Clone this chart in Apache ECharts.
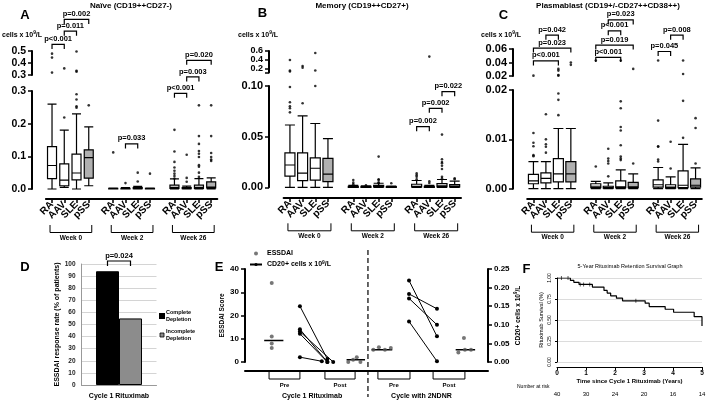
<!DOCTYPE html>
<html><head><meta charset="utf-8">
<script src="https://cdn.jsdelivr.net/npm/echarts@6/dist/echarts.min.js"></script>
<style>html,body{margin:0;padding:0;background:#fff}#c{width:709px;height:400px}</style>
</head><body><div id="c"></div>
<script>
const FONT = '"Liberation Sans", Arial, Helvetica, sans-serif';

// ---------------- categories ----------------
const groups = ['RA', 'AAV', 'SLE', 'pSS'];
const weeks = ['Week 0', 'Week 2', 'Week 26'];

// ---------------- Panel A: Naive (CD19++CD27-) ----------------
// [min, Q1, median, Q3, max] for RA,AAV,SLE,pSS at week 0, 2, 26
const naiveBoxes = [
  [0, 0.032, 0.072, 0.13, 0.26], [0.005, 0.01, 0.027, 0.077, 0.18], [0, 0.028, 0.049, 0.107, 0.23], [0.01, 0.033, 0.096, 0.12, 0.19],
  [0, 0, 0.001, 0.002, 0.003], [0, 0, 0.001, 0.002, 0.004], [0, 0.001, 0.002, 0.004, 0.008], [0, 0, 0.001, 0.002, 0.003],
  [0, 0.002, 0.005, 0.012, 0.031], [0, 0.001, 0.002, 0.004, 0.009], [0, 0.002, 0.005, 0.012, 0.032], [0, 0.003, 0.006, 0.022, 0.034]
];
const naiveOutliers = [
  [0.478, 0.445, 0.32], [0.219, 0.355], [0.249, 0.253, 0.274, 0.29, 0.328, 0.336, 0.496], [0.256],
  [0.112], [0.018], [0.05, 0.023], [0.047],
  [0.181, 0.115, 0.083, 0.066, 0.056, 0.047, 0.04, 0.032], [0.105, 0.034, 0.022], [0.256, 0.162, 0.138, 0.116, 0.108, 0.098, 0.073, 0.068, 0.05, 0.037], [0.256, 0.162, 0.11, 0.098, 0.09, 0.086]
];
const naivePLabels = ['p<0.001', 'p=0.011', 'p=0.002', 'p=0.033', 'p<0.001', 'p=0.003', 'p=0.020'];
const naivePPairs = [[0, 1], [1, 2], [1, 3], [5, 6], [8, 9], [9, 10], [9, 11]];

// ---------------- Panel B: Memory (CD19++CD27+) ----------------
const memoryBoxes = [
  [0, 0.011, 0.022, 0.034, 0.0615], [0, 0.0066, 0.014, 0.034, 0.0705], [0, 0.007, 0.0188, 0.029, 0.063], [0, 0.0056, 0.013, 0.0286, 0.048],
  [0, 0, 0.0005, 0.001, 0.002], [0, 0, 0.0005, 0.001, 0.0015], [0, 0.0005, 0.001, 0.002, 0.004], [0, 0, 0.0003, 0.0008, 0.0012],
  [0, 0.0003, 0.001, 0.003, 0.0067], [0, 0, 0.0003, 0.001, 0.002], [0, 0.0005, 0.0015, 0.0037, 0.0077], [0, 0.0005, 0.001, 0.0027, 0.006]
];
const memoryOutliers = [
  [0.074, 0.078, 0.08, 0.084, 0.099, 0.39, 0.147, 0.124], [0.083, 0.253, 0.215], [0.1, 0.555, 0.147], [],
  [0.003, 0.0046, 0.0072], [0.002], [0.0303, 0.008, 0.0072, 0.005, 0.004], [0.004],
  [0.0137, 0.012, 0.0103, 0.008], [0.006, 0.0043, 0.47], [0.052, 0.0277, 0.025, 0.0237, 0.0213, 0.018, 0.0103, 0.0087], [0.009, 0.008]
];
const memoryPLabels = ['p=0.002', 'p=0.002', 'p=0.022'];
const memoryPPairs = [[8, 9], [9, 10], [10, 11]];

// ---------------- Panel C: Plasmablast ----------------
const plasmaBoxes = [
  [0, 0.001, 0.0016, 0.0029, 0.0055], [0, 0.0012, 0.0021, 0.0032, 0.0055], [0, 0.0014, 0.003, 0.0061, 0.0122], [0, 0.0014, 0.003, 0.0055, 0.0122],
  [0, 0.0002, 0.0005, 0.001, 0.0015], [0, 0.0001, 0.0002, 0.0005, 0.0012], [0, 0.0002, 0.0004, 0.0016, 0.0038], [0, 0.0002, 0.0004, 0.0013, 0.003],
  [0, 0.0003, 0.0008, 0.0018, 0.0043], [0, 0.0001, 0.0003, 0.0008, 0.0024], [0, 0.0002, 0.0007, 0.0036, 0.009], [0, 0.0003, 0.0007, 0.002, 0.0042]
];
const plasmaOutliers = [
  [0.0066, 0.0068, 0.0086, 0.0093, 0.0113, 0.0205], [0.0073, 0.0085, 0.009, 0.01, 0.0151], [0.0149, 0.018, 0.0193, 0.0205, 0.0215, 0.028, 0.0305], [0.0365, 0.04],
  [0.0045, 0.043], [0.0025, 0.0051, 0.0056, 0.0061, 0.0081], [0.0058, 0.0061, 0.0065, 0.0088, 0.0118, 0.0125, 0.0163, 0.0177, 0.043], [0.0051, 0.0305],
  [0.0055, 0.0059, 0.0085, 0.0086, 0.0138, 0.043], [0.0041, 0.0095], [0.0103, 0.0178, 0.023, 0.043], [0.0051, 0.0123, 0.0143]
];
const plasmaPLabels = ['p=0.042', 'p=0.023', 'p<0.001', 'p=0.023', 'p<0.001', 'p=0.019', 'p<0.001', 'p=0.045', 'p=0.008'];
const plasmaPPairs = [[1, 2], [0, 3], [0, 2], [5, 7], [5, 6], [4, 7], [4, 6], [8, 9], [9, 10]];

// ---------------- Panel D ----------------
const depletionGroups = ['Complete Depletion', 'Incomplete Depletion'];
const responseRate = [94, 55];
const dCategories = ['Cycle 1 Rituximab'];
const dPLabel = 'p=0.024';

// ---------------- Panel E ----------------
const essdaiPreC1 = [34, 11, 8, 6];
const essdaiPostC1 = [0, 1, 2, 0];
const essdaiPreC2 = [5.3, 6.3, 5.3, 6];
const essdaiPostC2 = [4.1, 10.3, 5.3, 5.3];
const essdaiMedians = [9.3, 1.0, 5.3, 5.3];
const cd20PreC1 = [0.15, 0.088, 0.082, 0.076, 0.013];
const cd20PostC1 = [0.008, 0, 0, 0, 0.002];
const cd20PreC2 = [0.219, 0.183, 0.171, 0.109];
const cd20PostC2 = [0.069, 0.143, 0.1, 0.002];
const eTimepoints = ['Pre', 'Post', 'Pre', 'Post'];
const eCycles = ['Cycle 1 Rituximab', 'Cycle with 2NDNR'];
const cd20Name = 'CD20+ cells x 10^9/L';

// ---------------- Panel F ----------------
const kmTime = [0, 0.46, 0.58, 0.76, 1.22, 1.62, 1.73, 1.85, 2.05, 2.26, 3.04, 3.18, 3.73, 4.02, 4.73, 5.0];
const kmSurv = [1.0, 0.972, 0.948, 0.924, 0.892, 0.852, 0.82, 0.788, 0.76, 0.728, 0.70, 0.66, 0.628, 0.592, 0.54, 0.428];
const censorTime = [0.15, 0.38, 0.8, 0.92, 1.13, 2.72];
const censorSurv = [1, 1, 0.924, 0.924, 0.924, 0.728];
const atRisk = [40, 30, 24, 20, 16, 14];

// ================= layout =================
const slotOf = [0, 1, 2, 3, 5, 6, 7, 8, 10, 11, 12, 13];
const slotCats = Array.from({length: 14}, (_, i) => 'c' + i);
const isSlot = i => slotOf.indexOf(i) >= 0;
const slotLabel = v => { const k = slotOf.indexOf(parseInt(String(v).slice(1), 10)); return k < 0 ? '' : groups[k % 4]; };

// superscript helper for rich text: '10^9' -> 10 + raised 9
const supRich = (s) => s.split('^').map((part, i) => i === 0 ? '{a|' + part + '}' : '{s|' + part[0] + '}{a|' + part.slice(1) + '}').join('');
const richStyles = (fs) => ({a: {fontSize: fs, fontWeight: 'bold', fontFamily: FONT, color: '#000', lineHeight: fs + 2},
  s: {fontSize: fs * 0.7, fontWeight: 'bold', fontFamily: FONT, color: '#000', verticalAlign: 'top', lineHeight: fs + 2}});

const option = {
  animation: false, backgroundColor: '#fff', textStyle: {fontFamily: FONT},
  grid: [], xAxis: [], yAxis: [], series: [], legend: [], graphic: []
};
const txt = (text, x, y, size, weight, align, rich) => option.graphic.push({
  type: 'text', x: x, y: y, silent: true,
  style: Object.assign({text: text, fill: '#000', fontSize: size, fontWeight: weight, fontFamily: FONT, align: align || 'center', verticalAlign: 'middle'}, rich ? {rich: rich} : {})
});

function bracketRender(labels, drop, fs) {
  return function (params, api) {
    const a = api.coord([api.value(0), api.value(2)]);
    const b = api.coord([api.value(1), api.value(2)]);
    return {type: 'group', children: [
      {type: 'polyline', shape: {points: [[a[0], a[1] + drop], [a[0], a[1]], [b[0], b[1]], [b[0], b[1] + drop]]}, style: {stroke: '#000', lineWidth: 1.2, fill: null}},
      {type: 'text', x: (a[0] + b[0]) / 2, y: a[1] - 1.5, style: {text: labels[params.dataIndex], fill: '#000', fontSize: fs, fontWeight: 'bold', fontFamily: FONT, align: 'center', verticalAlign: 'bottom'}}
    ]};
  };
}
function weekRender(labels, o) {
  return function (params, api) {
    const a = api.coord([api.value(0), 0]);
    const b = api.coord([api.value(1), 0]);
    const x1 = a[0] - o.l, x2 = b[0] + o.r, y1 = a[1] + o.t, y2 = a[1] + o.b;
    return {type: 'group', children: [
      {type: 'polyline', shape: {points: [[x1, y1], [x1, y2], [x2, y2], [x2, y1]]}, style: {stroke: '#000', lineWidth: 1, fill: null}},
      {type: 'text', x: (x1 + x2) / 2, y: a[1] + o.txt, style: {text: labels[params.dataIndex], fill: '#000', fontSize: o.fs, fontWeight: 'bold', fontFamily: FONT, align: 'center', verticalAlign: 'middle'}}
    ]};
  };
}

function addBoxPanel(P) {
  const g = option.grid.length;
  option.grid.push({left: P.left, top: P.lowTop, width: P.width, height: P.lowH, containLabel: false, outerBoundsMode: 'none'});
  option.grid.push({left: P.left, top: P.upTop, width: P.width, height: P.upH, containLabel: false, outerBoundsMode: 'none'});
  const xi = option.xAxis.length;
  option.xAxis.push({gridIndex: g, type: 'category', data: slotCats, position: 'bottom', offset: P.xOff,
    axisLine: {show: true, onZero: false, lineStyle: {color: '#000', width: 2}},
    axisTick: {show: true, alignWithLabel: true, length: 4, interval: (i) => isSlot(i), lineStyle: {color: '#000', width: 1.5}},
    axisLabel: {show: true, interval: 0, hideOverlap: false, rotate: 45, margin: 4, formatter: (v) => slotLabel(v), color: '#000', fontSize: P.xfs, fontWeight: 'bold', fontFamily: FONT},
    splitLine: {show: false}});
  option.xAxis.push({gridIndex: g + 1, type: 'category', data: slotCats, show: false, axisLine: {onZero: false}});
  const yi = option.yAxis.length;
  const yAx = (gi, min, max, interval, dec, fs) => ({gridIndex: gi, type: 'value', min: min, max: max, interval: interval, offset: P.yOff, position: 'left',
    axisLine: {show: true, lineStyle: {color: '#000', width: 2}},
    axisTick: {show: true, length: 4, lineStyle: {color: '#000', width: 1.5}},
    axisLabel: {show: true, margin: 6, showMinLabel: true, showMaxLabel: true, hideOverlap: false, color: '#000', fontSize: fs, fontWeight: 'bold', fontFamily: FONT, formatter: v => v.toFixed(dec)},
    splitLine: {show: false}});
  option.yAxis.push(yAx(g, 0, P.lowMax, P.lowInt, P.lowDec, P.yfs));
  const up = yAx(g + 1, P.upMin, P.upMax, P.upInt, P.upDec, P.upfs || P.yfs);
  if (P.upLabels) {
    up.axisTick.customValues = P.upTicks;
    up.axisLabel.formatter = v => (P.upLabels.some(x => Math.abs(x - v) < 1e-6) ? v.toFixed(P.upDec) : '');
  }
  option.yAxis.push(up);

  option.series.push({type: 'boxplot', xAxisIndex: xi, yAxisIndex: yi, encode: {x: 0, y: [1, 2, 3, 4, 5]},
    boxWidth: [P.bw, P.bw], silent: true,
    itemStyle: {color: '#fff', borderColor: '#000', borderWidth: 1.2},
    data: P.boxes.map((b, k) => (k % 4 === 3
      ? {value: [slotOf[k]].concat(b), itemStyle: {color: '#b0b0b0', borderColor: '#000', borderWidth: 1.2}}
      : [slotOf[k]].concat(b)))});
  const lo = [], hi = [];
  P.outliers.forEach((arr, k) => arr.forEach(v => (v > P.lowMax ? hi : lo).push([slotOf[k], v])));
  option.series.push({type: 'scatter', xAxisIndex: xi, yAxisIndex: yi, data: lo, symbolSize: 2.6, itemStyle: {color: '#000'}, silent: true, z: 3});
  option.series.push({type: 'scatter', xAxisIndex: xi + 1, yAxisIndex: yi + 1, data: hi, symbolSize: 2.6, itemStyle: {color: '#000'}, silent: true, z: 3});
  option.series.push({type: 'custom', xAxisIndex: xi, yAxisIndex: yi, clip: false, silent: true, encode: {x: [0, 1], y: 2},
    data: P.pairs.map((p, k) => [slotOf[p[0]], slotOf[p[1]], P.levels[k]]),
    renderItem: bracketRender(P.plabels, 4.5, 7.5), z: 5});
  option.series.push({type: 'custom', xAxisIndex: xi, yAxisIndex: yi, clip: false, silent: true, encode: {x: [0, 1], y: 2},
    data: weeks.map((w, k) => [slotOf[k * 4], slotOf[k * 4 + 3], 0]),
    renderItem: weekRender(weeks, {l: 2, r: 3, t: 36, b: 43.5, txt: 49, fs: 6.5}), z: 5});
  txt(P.letter, P.letterX, P.letterY, 13, 'bold');
  txt(P.title, P.titleX, 5.5, 8, 'bold');
  txt(supRich('cells x 10^9/L'), P.unitX, 35, 7, 'bold', 'left', richStyles(7));
}

addBoxPanel({letter: 'A', letterX: 25, letterY: 15, title: 'Na\u00efve (CD19++CD27-)', titleX: 131, unitX: 2,
  left: 45.9, width: 171.4, lowTop: 91, lowH: 98, upTop: 51, upH: 24, xOff: 10, yOff: 13.9,
  lowMax: 0.3, lowInt: 0.1, lowDec: 1, upMin: 0.3, upMax: 0.5, upInt: 0.1, upDec: 1,
  xfs: 10, yfs: 10.5, bw: 9, boxes: naiveBoxes, outliers: naiveOutliers, plabels: naivePLabels, pairs: naivePPairs,
  levels: [0.4425, 0.483, 0.519, 0.138, 0.293, 0.343, 0.394]});
addBoxPanel({letter: 'B', letterX: 262.5, letterY: 13, title: 'Memory (CD19++CD27+)', titleX: 362, unitX: 238,
  left: 283.6, width: 177.4, lowTop: 86, lowH: 101.3, upTop: 51, upH: 21.6, xOff: 10.7, yOff: 14.6,
  lowMax: 0.1, lowInt: 0.05, lowDec: 2, upMin: 0.1, upMax: 0.6, upInt: 0.1, upDec: 1,
  upTicks: [0.1, 0.2, 0.4, 0.6], upLabels: [0.2, 0.4, 0.6], upfs: 9,
  xfs: 10, yfs: 11, bw: 10, boxes: memoryBoxes, outliers: memoryOutliers, plabels: memoryPLabels, pairs: memoryPPairs,
  levels: [0.0598, 0.078, 0.0944]});
addBoxPanel({letter: 'C', letterX: 503.5, letterY: 15, title: 'Plasmablast (CD19+/-CD27++CD38++)', titleX: 608, unitX: 481,
  left: 527.2, width: 174.6, lowTop: 90, lowH: 98.7, upTop: 49, upH: 27, xOff: 10.3, yOff: 14.2,
  lowMax: 0.02, lowInt: 0.01, lowDec: 2, upMin: 0.02, upMax: 0.06, upInt: 0.02, upDec: 2,
  xfs: 10, yfs: 11, bw: 10, boxes: plasmaBoxes, outliers: plasmaOutliers, plabels: plasmaPLabels, pairs: plasmaPPairs,
  levels: [0.0311, 0.0285, 0.0259, 0.0342, 0.032, 0.0291, 0.0266, 0.0278, 0.0311]});

// ================= Panel D =================
{
  const g = option.grid.length;
  option.grid.push({left: 81.5, top: 264, width: 75, height: 121, containLabel: false, outerBoundsMode: 'none'});
  const xi = option.xAxis.length, yi = option.yAxis.length;
  option.xAxis.push({gridIndex: g, type: 'category', data: dCategories, position: 'bottom',
    axisLine: {show: true, onZero: false, lineStyle: {color: '#999', width: 1}}, axisTick: {show: false},
    axisLabel: {margin: 8, color: '#000', fontSize: 7, fontWeight: 'bold', fontFamily: FONT}});
  option.yAxis.push({gridIndex: g, type: 'value', min: 0, max: 100, interval: 10, position: 'left',
    axisLine: {show: true, lineStyle: {color: '#999', width: 1}}, axisTick: {show: false},
    axisLabel: {margin: 6, color: '#222', fontSize: 6.5, fontWeight: 'bold', fontFamily: FONT},
    splitLine: {show: true, lineStyle: {color: '#d4d4d4', width: 1}},
    name: 'ESSDAI response rate (% of patients)', nameLocation: 'middle', nameGap: 19, nameRotate: 90,
    nameTextStyle: {fontSize: 7, fontWeight: 'bold', color: '#000', fontFamily: FONT}});
  const colors = ['#000', '#8c8c8c'];
  depletionGroups.forEach((name, k) => option.series.push({type: 'bar', name: name, xAxisIndex: xi, yAxisIndex: yi,
    data: [responseRate[k]], barWidth: 23, barGap: '0%', silent: true,
    itemStyle: {color: colors[k], borderColor: '#000', borderWidth: 1}}));
  option.series.push({type: 'custom', xAxisIndex: xi, yAxisIndex: yi, clip: false, silent: true, encode: {x: 0, y: 1},
    data: [[0, 102.5]],
    renderItem: function (params, api) {
      const c = api.coord([api.value(0), api.value(1)]);
      const x1 = c[0] - 11.5, x2 = c[0] + 11.5;
      return {type: 'group', children: [
        {type: 'polyline', shape: {points: [[x1, c[1] + 5], [x1, c[1]], [x2, c[1]], [x2, c[1] + 5]]}, style: {stroke: '#000', lineWidth: 1.2, fill: null}},
        {type: 'text', x: c[0], y: c[1] - 1, style: {text: dPLabel, fill: '#000', fontSize: 7.5, fontWeight: 'bold', fontFamily: FONT, align: 'center', verticalAlign: 'bottom'}}
      ]};
    }});
  option.legend.push({data: [{name: depletionGroups[0], itemStyle: {color: '#000'}}, {name: depletionGroups[1], itemStyle: {color: '#8c8c8c', borderColor: '#000', borderWidth: 0.8}}],
    left: 159, top: 309, orient: 'vertical', icon: 'rect', itemWidth: 4, itemHeight: 4, itemGap: 5, padding: 0, selectedMode: false,
    formatter: n => n.replace(' ', '\n'),
    textStyle: {fontSize: 5.5, fontWeight: 'bold', color: '#000', fontFamily: FONT, lineHeight: 7, padding: [0, 0, 0, -3]}});
  txt('D', 25, 267, 13, 'bold');
}

// ================= Panel E =================
{
  const g = option.grid.length;
  option.grid.push({left: 245, top: 269, width: 243, height: 93, containLabel: false, outerBoundsMode: 'none'});
  const xi = option.xAxis.length, yi = option.yAxis.length;
  option.xAxis.push({gridIndex: g, type: 'value', min: 0, max: 10, offset: 9, position: 'bottom',
    axisLine: {show: true, onZero: false, lineStyle: {color: '#000', width: 2}}, axisTick: {show: false}, axisLabel: {show: false}, splitLine: {show: false}});
  const yAx = (pos, max, interval, dec, name, gap, rich) => ({gridIndex: g, type: 'value', min: 0, max: max, interval: interval, position: pos,
    axisLine: {show: true, lineStyle: {color: '#000', width: 2}}, axisTick: {show: true, length: 4, lineStyle: {color: '#000', width: 1.5}},
    axisLabel: {margin: 6, showMinLabel: true, showMaxLabel: true, color: '#000', fontSize: 8, fontWeight: 'bold', fontFamily: FONT, formatter: v => v.toFixed(dec)},
    splitLine: {show: false}, name: name, nameLocation: 'middle', nameGap: gap, nameRotate: 90,
    nameTextStyle: Object.assign({fontSize: 6.5, fontWeight: 'bold', color: '#000', fontFamily: FONT}, rich ? {rich: rich} : {})});
  option.yAxis.push(yAx('left', 40, 10, 0, 'ESSDAI Score', 14));
  option.yAxis.push(yAx('right', 0.25, 0.05, 2, supRich(cd20Name), 25, richStyles(6.5)));

  // x positions (axis units)
  const essX = [[1.1, 1.1, 1.1, 1.1], [4.25, 4.45, 4.6, 4.75], [5.28, 5.51, 5.76, 6.0], [8.78, 9.01, 9.05, 9.3]];
  const essVals = [essdaiPreC1, essdaiPostC1, essdaiPreC2, essdaiPostC2];
  const medSpan = [[0.79, 1.58], [4.18, 4.94], [5.21, 6.06], [8.67, 9.47]];
  const essData = [];
  essVals.forEach((arr, k) => arr.forEach((v, j) => essData.push([essX[k][j], v])));
  option.series.push({type: 'scatter', name: 'ESSDAI', xAxisIndex: xi, yAxisIndex: yi, data: essData, symbolSize: 4, itemStyle: {color: '#555'}, silent: true, z: 4});
  medSpan.forEach((s, k) => option.series.push({type: 'line', name: 'median', xAxisIndex: xi, yAxisIndex: yi, data: [[s[0], essdaiMedians[k]], [s[1], essdaiMedians[k]]],
    symbol: 'none', lineStyle: {color: '#000', width: 1.5}, silent: true}));
  const c1PostX = [3.39, 3.39, 3.63, 3.39, 3.16];
  cd20PreC1.forEach((v, k) => option.series.push({type: 'line', name: cd20Name, xAxisIndex: xi, yAxisIndex: yi + 1,
    data: [[2.26, v], [c1PostX[k], cd20PostC1[k]]], symbol: 'circle', symbolSize: 4, itemStyle: {color: '#000'}, lineStyle: {color: '#000', width: 1}, silent: true}));
  cd20PreC2.forEach((v, k) => option.series.push({type: 'line', name: cd20Name, xAxisIndex: xi, yAxisIndex: yi + 1,
    data: [[6.75, v], [7.9, cd20PostC2[k]]], symbol: 'circle', symbolSize: 4, itemStyle: {color: '#000'}, lineStyle: {color: '#000', width: 1}, silent: true}));
  const eBr = [[0.99, 2.26], [3.29, 4.53], [5.47, 6.79], [7.74, 9.05]];
  option.series.push({type: 'custom', xAxisIndex: xi, yAxisIndex: yi, clip: false, silent: true, encode: {x: [0, 1], y: 2},
    data: eBr.map(b => [b[0], b[1], 0]),
    renderItem: function (params, api) {
      const a = api.coord([api.value(0), 0]), b = api.coord([api.value(1), 0]);
      const ch = [
        {type: 'polyline', shape: {points: [[a[0], a[1] + 9], [a[0], a[1] + 17], [b[0], b[1] + 17], [b[0], b[1] + 9]]}, style: {stroke: '#000', lineWidth: 1, fill: null}},
        {type: 'text', x: (a[0] + b[0]) / 2, y: a[1] + 23, style: {text: eTimepoints[params.dataIndex], fill: '#000', fontSize: 6, fontWeight: 'bold', fontFamily: FONT, align: 'center', verticalAlign: 'middle'}}
      ];
      if (params.dataIndex % 2 === 1) {
        const s = api.coord([eBr[params.dataIndex - 1][0], 0]);
        ch.push({type: 'text', x: (s[0] + b[0]) / 2, y: a[1] + 34, style: {text: eCycles[(params.dataIndex - 1) / 2], fill: '#000', fontSize: 7, fontWeight: 'bold', fontFamily: FONT, align: 'center', verticalAlign: 'middle'}});
      }
      if (params.dataIndex === 2) {
        const d = api.coord([5.06, 0]), t = api.coord([5.06, 40]);
        ch.push({type: 'line', shape: {x1: d[0], y1: t[1] - 19, x2: d[0], y2: d[1] + 35}, style: {stroke: '#000', lineWidth: 1.2, lineDash: [5, 3]}});
      }
      return {type: 'group', children: ch};
    }});
  option.legend.push({data: [{name: 'ESSDAI', icon: 'circle', itemStyle: {color: '#555'}}, {name: cd20Name}],
    left: 249, top: 250, orient: 'vertical', itemWidth: 12, itemHeight: 4, itemGap: 3, padding: 0, selectedMode: false,
    formatter: n => supRich(n),
    textStyle: {fontSize: 7, fontWeight: 'bold', color: '#000', fontFamily: FONT, rich: richStyles(7)}});
  txt('E', 219, 267.5, 13, 'bold');
}

// ================= Panel F =================
{
  const g = option.grid.length;
  option.grid.push({left: 557, top: 278, width: 145, height: 84, containLabel: false, outerBoundsMode: 'none'});
  const xi = option.xAxis.length, yi = option.yAxis.length;
  option.xAxis.push({gridIndex: g, type: 'value', min: 0, max: 5, interval: 1, offset: 5, position: 'bottom',
    axisLine: {show: true, onZero: false, lineStyle: {color: '#000', width: 1}}, axisTick: {show: true, length: 3, lineStyle: {color: '#000'}},
    axisLabel: {margin: 3, color: '#000', fontSize: 6.5, fontWeight: 'bold', fontFamily: FONT}, splitLine: {show: false},
    name: 'Time since Cycle 1 Rituximab (Years)', nameLocation: 'middle', nameGap: 10,
    nameTextStyle: {fontSize: 6, fontWeight: 'bold', color: '#000', fontFamily: FONT}});
  option.xAxis.push({gridIndex: g, type: 'value', min: 0, max: 5, interval: 1, offset: 27, position: 'bottom',
    axisLine: {show: false, onZero: false}, axisTick: {show: false}, splitLine: {show: false},
    axisLabel: {margin: 2, showMinLabel: true, showMaxLabel: true, color: '#000', fontSize: 6, fontFamily: FONT, formatter: v => String(atRisk[Math.round(v)])}});
  option.yAxis.push({gridIndex: g, type: 'value', min: 0, max: 1, interval: 0.25, offset: 3, position: 'left',
    axisLine: {show: true, lineStyle: {color: '#000', width: 1}}, axisTick: {show: true, length: 2, lineStyle: {color: '#000'}},
    axisLabel: {margin: 2, rotate: 90, color: '#000', fontSize: 5, fontFamily: FONT, formatter: v => v.toFixed(2)},
    splitLine: {show: true, lineStyle: {color: '#dcdcdc', width: 1}},
    name: 'Rituximab Survival (%)', nameLocation: 'middle', nameGap: 10, nameRotate: 90,
    nameTextStyle: {fontSize: 5.5, color: '#000', fontFamily: FONT}});
  option.series.push({type: 'line', xAxisIndex: xi, yAxisIndex: yi, step: 'end', data: kmTime.map((t, k) => [t, kmSurv[k]]),
    symbol: 'none', lineStyle: {color: '#000', width: 1.2}, silent: true});
  option.series.push({type: 'scatter', xAxisIndex: xi, yAxisIndex: yi, data: censorTime.map((t, k) => [t, censorSurv[k]]),
    symbol: 'rect', symbolSize: [0.8, 4], itemStyle: {color: '#000'}, silent: true});
  txt('F', 526.5, 269, 13, 'bold');
  txt('5-Year Rituximab Retention Survival Graph', 630, 266, 5.5, 'normal');
  txt('Number at risk', 517, 387, 5, 'normal', 'left');
}

const chart = echarts.init(document.getElementById('c'), null, {renderer: 'canvas'});
chart.setOption(option);
</script>
</body></html>
